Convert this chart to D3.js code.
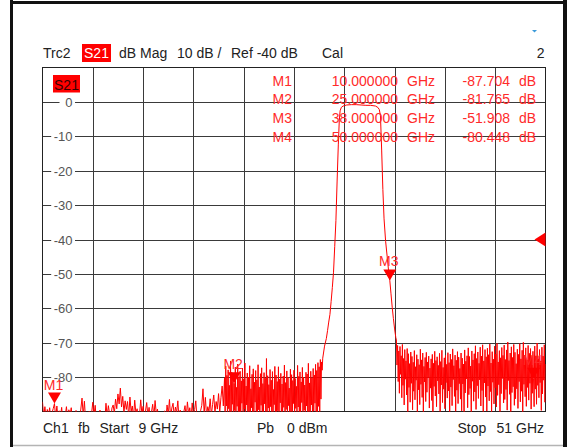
<!DOCTYPE html>
<meta charset="utf-8">
<style>
    body { margin: 0; background: #fff; }
    svg { display: block; font-family: "Liberation Sans", Arial, sans-serif; }
    .grid line { stroke: #3a3a3a; stroke-width: 1; shape-rendering: crispEdges; }
    .trace { fill: none; stroke: #ff0000; stroke-width: 1; stroke-linejoin: miter; }
    .hdr { font-size: 14px; fill: #222; }
    .mk { font-size: 14px; fill: #ff2a2a; }
    .ylab { font-size: 13px; fill: #555; }
</style>
<body></body>
<script src="https://d3js.org/d3.v7.min.js"></script>
<script>
    // sweep and display settings
    var startGHz = 9, stopGHz = 51;
    var topDb = 10, bottomDb = -90;
    var refLevelDb = -40;
    var yTickValues = [0, -10, -20, -30, -40, -50, -60, -70, -80];
    var yGridValues = [0, -10, -20, -30, -40, -50, -60, -70, -80];
    var xGridFreqs = [13.2, 17.4, 21.6, 25.8, 30.0, 34.2, 38.4, 42.6, 46.8];

    // stop band below the filter, read in 0.1 GHz steps
    var lowStep = 0.1;
    var lowNoiseStart = 9.0;
    var lowNoise = [
        -87.2, -91.5, -88.6, -92.0, -89.4, -91.0, -88.9, -92.5, -90.3, -89.1,
        -87.7, -91.8, -88.4, -92.2, -89.8, -91.4, -88.8, -93.0, -90.6, -91.2,
        -88.6, -92.4, -89.5, -91.0, -88.9, -92.8, -90.2, -91.6, -89.7, -92.1,
        -90.8, -91.9, -89.3, -86.1, -91.2, -87.0, -92.6, -90.4, -91.7, -89.9,
        -92.3, -90.5, -87.3, -91.1, -88.2, -92.9, -90.9, -91.5, -89.6, -92.0,
        -91.3, -90.1, -92.7, -87.6, -91.4, -88.3, -90.7, -92.2, -89.0, -88.1,
        -90.6, -86.4, -89.2, -84.9, -87.8, -83.2, -88.7, -85.6, -90.3, -86.9,
        -89.4, -87.1, -91.6, -85.8, -90.0, -88.4, -91.9, -86.7, -90.5, -89.2,
        -92.1, -91.0, -86.6, -90.8, -88.5, -92.4, -89.9, -87.4, -91.3, -88.8,
        -92.5, -90.2, -87.9, -91.7, -86.8, -90.6, -89.3, -92.8, -91.1, -90.4,
        -92.0, -91.4, -89.8, -92.6, -88.1, -90.9, -86.5, -91.8, -89.0, -87.6,
        -91.5, -88.7, -90.3, -86.9, -92.2, -89.6, -91.0, -92.7, -90.1, -88.3,
        -91.9, -87.2, -90.7, -88.9, -92.3, -87.5, -91.2, -89.4, -86.9, -92.0,
        -90.6, -91.7, -89.8, -88.2, -83.4, -90.5, -85.9, -91.3, -88.6, -90.0,
        -86.3, -91.1, -88.0, -85.2, -90.4, -87.1, -89.3, -84.8, -90.2, -86.0,
        -82.6, -88.4
    ];

    // denser noise either side of the passband, 0.05 GHz steps
    var noiseStep = 0.05;
    var midNoiseStart = 24.2;
    var midNoise = [
        -80.2, -91.5, -76.8, -88.4, -79.5, -93.0, -77.9, -89.2, -82.4, -90.6,
        -75.3, -92.1, -78.6, -87.9, -80.7, -94.2, -81.8, -89.7, -77.1, -91.3,
        -83.0, -88.5, -76.2, -93.4, -79.9, -90.1, -78.3, -92.7, -81.1, -87.6,
        -77.4, -94.0, -80.5, -89.3, -75.9, -91.8, -82.6, -88.1, -78.8, -93.6,
        -80.0, -90.4, -76.7, -92.5, -83.4, -88.9, -79.2, -94.5, -77.6, -90.9,
        -81.5, -87.3, -78.1, -93.1, -80.8, -91.0, -76.4, -89.5, -82.9, -92.3,
        -79.0, -88.2, -77.3, -94.8, -81.9, -90.3, -78.7, -87.8, -80.3, -93.7,
        -74.6, -91.6, -79.6, -89.0, -82.2, -92.9, -77.8, -88.6, -80.9, -94.1,
        -78.4, -90.7, -83.6, -88.0, -76.9, -93.3, -79.4, -91.4, -81.3, -89.8,
        -77.0, -92.0, -80.6, -87.5, -78.9, -94.3, -82.0, -90.0, -79.7, -88.8,
        -76.5, -93.5, -81.6, -89.4, -78.2, -91.9, -80.1, -88.3, -83.2, -92.6,
        -77.7, -90.5, -79.3, -94.6, -81.0, -87.7, -78.0, -92.2, -80.4, -89.1,
        -82.7, -91.2, -76.6, -88.7, -79.8, -93.8, -78.5, -90.2, -81.4, -87.4,
        -77.2, -92.8, -80.0, -89.6, -82.3, -94.4, -78.6, -88.4, -79.1, -91.7,
        -76.0, -90.8, -81.7, -93.2, -78.3, -88.1, -80.2, -92.4, -77.5, -89.9,
        -79.4, -87.6, -76.3, -91.1, -78.1, -93.9, -75.8, -88.5, -77.0, -90.2,
        -74.9, -86.4, -75.6, -78.0
    ];
    var passFreqs = [32.40, 32.55, 32.70, 32.80, 32.90, 33.00, 33.10, 33.20, 33.30, 33.40,
        33.50, 33.60, 33.70, 33.78, 33.85, 33.95, 34.10, 34.40, 34.80, 35.20,
        35.60, 36.00, 36.40, 36.80, 37.00, 37.12, 37.22, 37.32, 37.42, 37.52,
        37.65, 37.78, 37.90, 38.00, 38.10, 38.20, 38.30, 38.40, 38.50];
    var passDb = [-74.5, -71.0, -68.8, -66.5, -64.0, -61.8, -58.0, -54.0, -49.5, -42.0,
        -34.5, -23.0, -12.5, -5.5, -2.6, -1.6, -1.2, -0.9, -0.8, -0.8,
        -0.9, -1.0, -1.0, -1.2, -1.6, -2.2, -4.0, -14.0, -25.5, -34.0,
        -40.5, -45.0, -49.2, -51.9, -55.8, -59.7, -63.0, -66.0, -68.5];
    var highNoiseStart = 38.55;
    var highNoise = [
        -69.2, -76.5, -70.8, -81.3, -72.4, -84.7, -71.1, -79.2, -73.8, -86.0,
        -70.5, -82.4, -74.6, -88.1, -72.0, -80.6, -75.3, -85.2, -71.7, -90.4,
        -73.2, -83.0, -76.1, -87.3, -72.7, -81.8, -74.0, -89.5, -75.7, -84.1,
        -72.3, -86.6, -77.0, -80.9, -73.5, -91.2, -74.8, -83.7, -76.4, -88.0,
        -71.9, -82.1, -75.0, -85.9, -73.0, -90.8, -76.9, -81.4, -74.3, -87.1,
        -72.8, -84.4, -75.6, -80.2, -73.9, -89.0, -77.4, -83.2, -74.7, -86.8,
        -73.4, -91.0, -76.0, -82.7, -72.5, -85.5, -75.2, -88.6, -74.1, -81.1,
        -76.6, -84.9, -73.1, -90.1, -75.5, -82.3, -72.2, -87.4, -77.2, -83.5,
        -74.4, -89.2, -73.7, -81.6, -76.3, -86.1, -72.9, -84.0, -75.8, -91.5,
        -73.3, -82.9, -74.9, -88.3, -71.8, -80.7, -76.7, -85.6, -73.6, -90.0,
        -75.1, -83.8, -72.6, -87.7, -74.2, -81.9, -77.5, -86.4, -73.0, -89.8,
        -74.5, -82.0, -76.2, -91.3, -72.1, -84.6, -75.4, -80.5, -73.8, -88.9,
        -71.5, -85.1, -74.0, -83.3, -76.8, -90.6, -72.4, -81.2, -75.0, -87.0,
        -73.2, -84.3, -70.9, -89.4, -74.6, -82.5, -72.7, -86.2, -76.0, -80.8,
        -71.3, -88.4, -73.9, -83.9, -70.6, -91.1, -75.3, -81.7, -72.0, -85.8,
        -74.1, -89.9, -71.6, -82.6, -73.5, -86.9, -70.4, -84.2, -75.9, -90.3,
        -72.6, -81.5, -74.8, -87.8, -71.0, -83.1, -73.3, -88.7, -70.2, -85.3,
        -75.6, -82.2, -72.3, -90.7, -74.4, -84.8, -71.4, -80.4, -73.7, -87.5,
        -70.7, -86.5, -74.9, -83.6, -72.1, -89.6, -69.8, -81.0, -75.2, -85.0,
        -73.0, -91.4, -71.2, -84.5, -74.3, -82.8, -70.5, -88.2, -72.8, -86.3,
        -76.1, -83.4, -71.9, -89.1, -73.4, -81.3, -70.3, -87.2, -74.7, -84.1,
        -72.2, -90.9, -69.9, -82.1, -73.6, -85.7, -71.5, -88.5, -75.0, -83.0,
        -70.8, -86.7, -73.1, -81.8, -71.7, -89.3, -74.2, -84.7, -72.5, -80.4,
        -88.6, -71.0, -83.5, -73.8, -87.9, -70.1, -82.4, -74.6, -86.0, -72.0,
        -81.6, -75.3, -89.7, -71.3, -84.9, -73.9, -80.9, -70.6, -87.3, -76.2
    ];

    // markers
    var markerNames = ["M1", "M2", "M3", "M4"];
    var markerFreqs = [10, 25, 38, 50];
    var markerDb = [-87.704, -81.765, -51.908, -80.448];

    var W = 567, H = 447;
    var plot = { left: 42.5, top: 67.5, right: 545.5, bottom: 411.5 };

    var x = d3.scaleLinear().domain([startGHz, stopGHz]).range([plot.left, plot.right]);
    var y = d3.scaleLinear().domain([bottomDb, topDb]).range([plot.bottom, plot.top]);
    var crisp = function (v) { return Math.round(v) + 0.5; };

    var svg = d3.select("body").append("svg")
        .attr("width", W)
        .attr("height", H);

    svg.append("rect").attr("width", W).attr("height", H).attr("fill", "#fff");

    // instrument window frame
    svg.append("rect").attr("x", 10).attr("y", 0).attr("width", 3).attr("height", H).attr("fill", "#111");
    svg.append("rect").attr("x", 10).attr("y", 1).attr("width", W - 10).attr("height", 3).attr("fill", "#111");
    svg.append("rect").attr("x", 563).attr("y", 0).attr("width", 4).attr("height", H).attr("fill", "#111");
    svg.append("line").attr("x1", 13).attr("x2", 563).attr("y1", 445.5).attr("y2", 445.5)
        .attr("stroke", "#b4b4b4").attr("stroke-width", 1.5);

    // small blue mark top right
    svg.append("path").attr("d", "M532,30 L537,30 L534.5,32.5 Z").attr("fill", "#3a9ad9");

    // header line
    var hdrY = 58;
    function hdr(txt, px, anchor) {
        return svg.append("text").attr("class", "hdr").attr("x", px).attr("y", hdrY)
            .attr("text-anchor", anchor || "start").text(txt);
    }
    hdr("Trc2", 43);
    svg.append("rect").attr("x", 82).attr("y", 44).attr("width", 29).attr("height", 18).attr("fill", "#ff0000");
    svg.append("text").attr("class", "hdr").attr("x", 96.5).attr("y", hdrY)
        .attr("text-anchor", "middle").style("fill", "#fff").text("S21");
    hdr("dB Mag", 119);
    hdr("10 dB /", 177);
    hdr("Ref -40 dB", 231);
    hdr("Cal", 322);
    hdr("2", 544.5, "end");

    // grid
    var grid = svg.append("g").attr("class", "grid");
    grid.selectAll(".hg").data(yGridValues).enter().append("line")
        .attr("x1", plot.left).attr("x2", plot.right)
        .attr("y1", function (d) { return crisp(y(d)); })
        .attr("y2", function (d) { return crisp(y(d)); });
    grid.selectAll(".vg").data(xGridFreqs).enter().append("line")
        .attr("y1", plot.top).attr("y2", plot.bottom)
        .attr("x1", function (d) { return crisp(x(d)); })
        .attr("x2", function (d) { return crisp(x(d)); });
    svg.append("rect")
        .attr("x", plot.left).attr("y", plot.top)
        .attr("width", plot.right - plot.left).attr("height", plot.bottom - plot.top)
        .attr("fill", "none").attr("stroke", "#222").attr("stroke-width", 1)
        .attr("shape-rendering", "crispEdges");

    // y labels sit on the grid lines with a white patch
    var labX = 72.5;
    var labs = svg.selectAll(".yl").data(yTickValues).enter().append("g");
    labs.append("rect").attr("class", "bg").attr("fill", "#fff");
    labs.append("text").attr("class", "ylab")
        .attr("x", labX)
        .attr("y", function (d) { return crisp(y(d)) + 4.5; })
        .attr("text-anchor", "end")
        .text(function (d) { return String(d); });
    labs.each(function () {
        var g = d3.select(this);
        var b = g.select("text").node().getBBox();
        var w = Math.max(b.width, 10.5);
        g.select("rect").attr("x", labX - w - 2.5).attr("y", b.y + 1)
            .attr("width", w + 5).attr("height", b.height - 2);
    });

    // plot-label S21
    svg.append("rect").attr("x", 53).attr("y", 75).attr("width", 27).attr("height", 17.5).attr("fill", "#ff0000");
    svg.append("text").attr("class", "hdr").attr("x", 66.5).attr("y", 89.5)
        .attr("text-anchor", "middle").style("fill", "#3a0000").text("S21");

    // build the trace
    var trace = []
        .concat(lowNoise.map(function (v, i) { return { f: lowNoiseStart + i * lowStep, v: v }; }))
        .concat(midNoise.map(function (v, i) { return { f: midNoiseStart + i * noiseStep, v: v }; }))
        .concat(passFreqs.map(function (f, i) { return { f: f, v: passDb[i] }; }))
        .concat(highNoise.map(function (v, i) { return { f: highNoiseStart + i * noiseStep, v: v }; }));

    svg.append("clipPath").attr("id", "clip").append("rect")
        .attr("x", plot.left).attr("y", plot.top)
        .attr("width", plot.right - plot.left).attr("height", plot.bottom - plot.top);

    var line = d3.line()
        .x(function (d) { return x(d.f); })
        .y(function (d) { return y(d.v); });

    // marker triangles under the trace
    var mk = svg.selectAll(".marker").data(markerNames).enter().append("g");
    mk.append("path")
        .attr("fill", "#ff0000")
        .attr("d", function (d, i) {
            var px = x(markerFreqs[i]), py = y(markerDb[i]);
            return "M" + (px - 6.5) + "," + (py - 11) + "L" + (px + 6.5) + "," + (py - 11) + "L" + px + "," + py + "Z";
        });

    svg.append("path")
        .datum(trace)
        .attr("class", "trace")
        .attr("clip-path", "url(#clip)")
        .attr("d", line);

    svg.selectAll(".mlab").data(markerNames).enter().append("text").attr("class", "mk")
        .attr("text-anchor", "middle")
        .attr("x", function (d, i) { return x(markerFreqs[i]) - 1; })
        .attr("y", function (d, i) { return y(markerDb[i]) - 14; })
        .text(function (d) { return d; });

    // reference level arrow at right edge
    var ry = y(refLevelDb);
    svg.append("path").attr("fill", "#ff0000")
        .attr("d", "M" + (plot.right - 11) + "," + ry + "L" + plot.right + "," + (ry - 7) + "L" + plot.right + "," + (ry + 7) + "Z");

    // marker readout table
    var fmtF = d3.format(".6f"), fmtV = d3.format(".3f");
    var rowY = function (i) { return 85.5 + i * 18.7; };
    var table = svg.selectAll(".row").data(markerNames).enter().append("g");
    table.append("text").attr("class", "mk").attr("x", 292).attr("text-anchor", "end")
        .attr("y", function (d, i) { return rowY(i); }).text(function (d) { return d; });
    table.append("text").attr("class", "mk").attr("x", 398).attr("text-anchor", "end")
        .attr("y", function (d, i) { return rowY(i); }).text(function (d, i) { return fmtF(markerFreqs[i]); });
    table.append("text").attr("class", "mk").attr("x", 407)
        .attr("y", function (d, i) { return rowY(i); }).text("GHz");
    table.append("text").attr("class", "mk").attr("x", 510).attr("text-anchor", "end")
        .attr("y", function (d, i) { return rowY(i); }).text(function (d, i) { return fmtV(markerDb[i]).replace("\u2212", "-"); });
    table.append("text").attr("class", "mk").attr("x", 519)
        .attr("y", function (d, i) { return rowY(i); }).text("dB");

    // footer
    var ftY = 433;
    function ft(txt, px, anchor) {
        svg.append("text").attr("class", "hdr").attr("x", px).attr("y", ftY)
            .attr("text-anchor", anchor || "start").text(txt);
    }
    ft("Ch1", 43);
    ft("fb", 78);
    ft("Start", 99.5);
    ft("9 GHz", 138.5);
    ft("Pb", 257);
    ft("0 dBm", 287);
    ft("Stop", 457.5);
    ft("51 GHz", 544, "end");
</script>
